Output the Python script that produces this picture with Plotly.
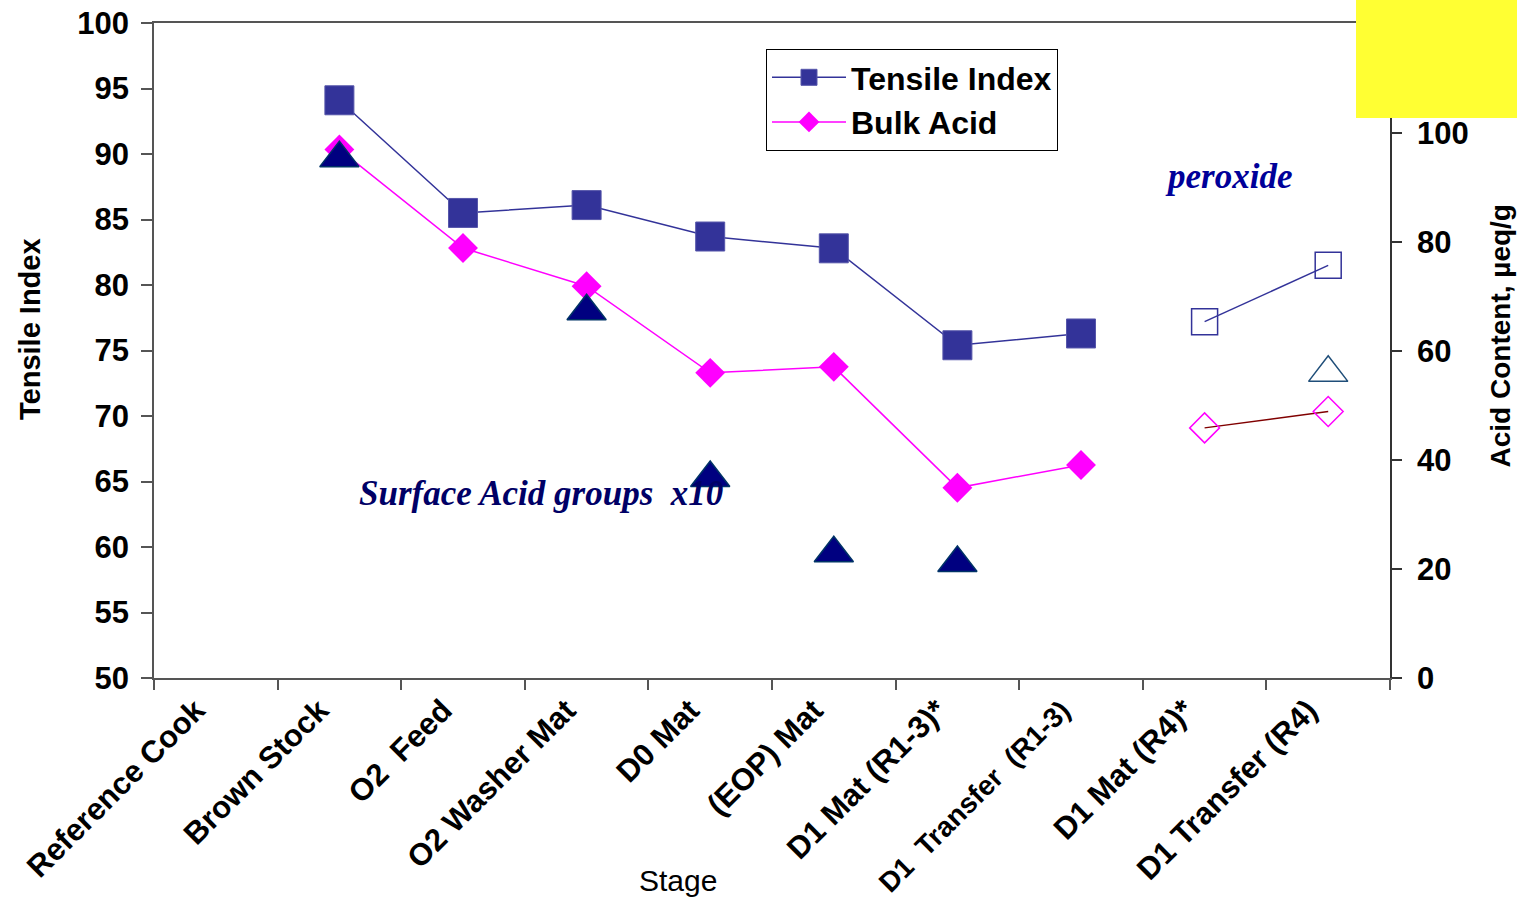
import plotly.graph_objects as go

categories = ["Reference Cook", "Brown Stock", "O2  Feed", "O2 Washer Mat", "D0 Mat",
              "(EOP) Mat", "D1 Mat (R1-3)*", "D1  Transfer  (R1-3)", "D1 Mat (R4)*", "D1 Transfer (R4)"]

# Tensile index (left axis)
tensile = [None, 94.1, 85.5, 86.1, 83.7, 82.8, 75.4, 76.3]
tensile_r4 = [77.2, 81.5]

# Bulk acid (right axis, ueq/g)
bulk = [None, 97.0, 78.9, 71.9, 56.0, 57.1, 34.9, 39.1]
bulk_r4 = [45.9, 48.9]

# Surface acid groups x10 (right axis)
surface = [None, 95.4, None, 67.3, 36.7, 22.9, 21.1, None]
surface_r4 = [None, 56.0]

left_ticks = [50, 55, 60, 65, 70, 75, 80, 85, 90, 95, 100]
right_ticks = [0, 20, 40, 60, 80, 100]

# plot area in pixels
L, R, T, B = 154, 1390, 23, 678
W, H = R - L, B - T
def px(x):
    return (x - L) / W
def py(y):
    return (B - y) / H

FONT = "Liberation Sans, Arial, sans-serif"
SERIF = "Liberation Serif, Times New Roman, serif"

# the longest label is set a little smaller so it stays inside the page
tick_text = [c if len(c) < 18 else '<span style="font-size:28px">%s</span>' % c for c in categories]

fig = go.Figure()

fig.add_trace(go.Scatter(
    x=categories[:8], y=tensile, name="Tensile Index", mode="lines+markers",
    line=dict(color="#333399", width=1.5),
    marker=dict(symbol="square", size=29, color="#333399", line=dict(color="#5656AA", width=1)),
    yaxis="y"))
fig.add_trace(go.Scatter(
    x=categories[8:], y=tensile_r4, name="Tensile R4", mode="lines+markers", showlegend=False,
    line=dict(color="#333399", width=1.5),
    marker=dict(symbol="square-open", size=26, color="#333399", line=dict(color="#333399", width=1.5)),
    yaxis="y"))

fig.add_trace(go.Scatter(
    x=categories[:8], y=bulk, name="Bulk Acid", mode="lines+markers",
    line=dict(color="#FF00FF", width=1.5),
    marker=dict(symbol="diamond", size=23, color="#FF00FF", line=dict(color="#FF00FF", width=0)),
    yaxis="y2"))
fig.add_trace(go.Scatter(
    x=categories[8:], y=bulk_r4, name="Bulk R4", mode="lines+markers", showlegend=False,
    line=dict(color="#800000", width=1.5),
    marker=dict(symbol="diamond-open", size=23, color="#FF00FF", line=dict(color="#FF00FF", width=1.5)),
    yaxis="y2"))

fig.add_trace(go.Scatter(
    x=categories[:8], y=surface, name="Surface Acid groups x10", mode="markers", showlegend=False,
    marker=dict(symbol="triangle-up", size=34, color="#000080", line=dict(color="#003366", width=1.5)),
    yaxis="y2"))
fig.add_trace(go.Scatter(
    x=categories[8:], y=surface_r4, name="Surface R4", mode="markers", showlegend=False,
    marker=dict(symbol="triangle-up-open", size=34, color="#1F4E79", line=dict(color="#1F4E79", width=1.5)),
    yaxis="y2"))

fig.update_layout(
    width=1517, height=900,
    margin=dict(l=L, r=1517 - R, t=T, b=900 - B, autoexpand=False),
    paper_bgcolor="white", plot_bgcolor="white",
    font=dict(family=FONT, color="black"),
    xaxis=dict(
        type="category", categoryorder="array", categoryarray=categories,
        tickmode="array", tickvals=categories, ticktext=tick_text,
        range=[-0.5, 9.5], tickson="boundaries", ticks="outside", ticklen=10,
        tickcolor="#555555", tickwidth=1.5,
        showline=True, linecolor="#555555", linewidth=1.5, mirror=True,
        showgrid=False, zeroline=False, tickangle=-45, ticklabelshift=-20,
        tickfont=dict(family=FONT, size=31, weight="bold", color="black"),
        automargin=False),
    yaxis=dict(
        range=[50, 100], tickvals=left_ticks, ticks="outside", ticklen=11,
        tickcolor="#555555", tickwidth=1.5,
        showline=True, linecolor="#555555", linewidth=1.5,
        showgrid=False, zeroline=False, ticklabelstandoff=6,
        tickfont=dict(family=FONT, size=31, weight="bold", color="black"),
        automargin=False),
    yaxis2=dict(
        range=[0, 120.2], tickvals=right_ticks, overlaying="y", side="right", anchor="x",
        ticks="outside", ticklen=10, tickcolor="#333333", tickwidth=1.5,
        showline=True, linecolor="#333333", linewidth=1.5,
        showgrid=False, zeroline=False, ticklabelstandoff=9,
        tickfont=dict(family=FONT, size=31, weight="bold", color="black"),
        automargin=False),
    yaxis3=dict(
        range=[0, 120.2], tickvals=right_ticks, overlaying="y", side="right", anchor="x",
        ticks="inside", ticklen=10, tickcolor="#333333", tickwidth=1.5,
        showline=False, showgrid=False, zeroline=False, showticklabels=False,
        automargin=False),
    legend=dict(
        x=px(766), y=py(49), xanchor="left", yanchor="top",
        bgcolor="white", bordercolor="black", borderwidth=1,
        font=dict(family=FONT, size=32, weight="bold", color="black"),
        itemwidth=74, tracegroupgap=0),
    showlegend=True,
)

annotations = [
    dict(text="Stage", x=px(678), y=py(880), xref="paper", yref="paper",
         showarrow=False, font=dict(family=FONT, size=30, color="black"),
         xanchor="center", yanchor="middle"),
    dict(text="Tensile Index", x=px(30), y=py(422), xref="paper", yref="paper",
         showarrow=False, textangle=-90, font=dict(family=FONT, size=29, weight="bold", color="black"),
         xanchor="center", yanchor="bottom"),
    dict(text="Acid Content, µeq/g", x=px(1500), y=py(470), xref="paper", yref="paper",
         showarrow=False, textangle=-90, font=dict(family=FONT, size=28, weight="bold", color="black"),
         xanchor="center", yanchor="bottom"),
    dict(text="<b><i>Surface Acid groups  x10</i></b>", x=px(357), y=py(493), xref="paper", yref="paper",
         showarrow=False, font=dict(family=SERIF, size=35, color="#000066"),
         xanchor="left", yanchor="middle"),
    dict(text="<b><i>peroxide</i></b>", x=px(1163), y=py(176), xref="paper", yref="paper",
         showarrow=False, font=dict(family=SERIF, size=35, color="#000099"),
         xanchor="left", yanchor="middle"),
]
fig.update_layout(annotations=annotations)

fig.add_shape(type="rect", xref="paper", yref="paper",
              x0=px(1356), x1=px(1517) + 0.01, y0=py(118), y1=py(0) + 0.01,
              fillcolor="#FFFF33", line=dict(width=0), layer="above")

fig.write_html("out.html")
